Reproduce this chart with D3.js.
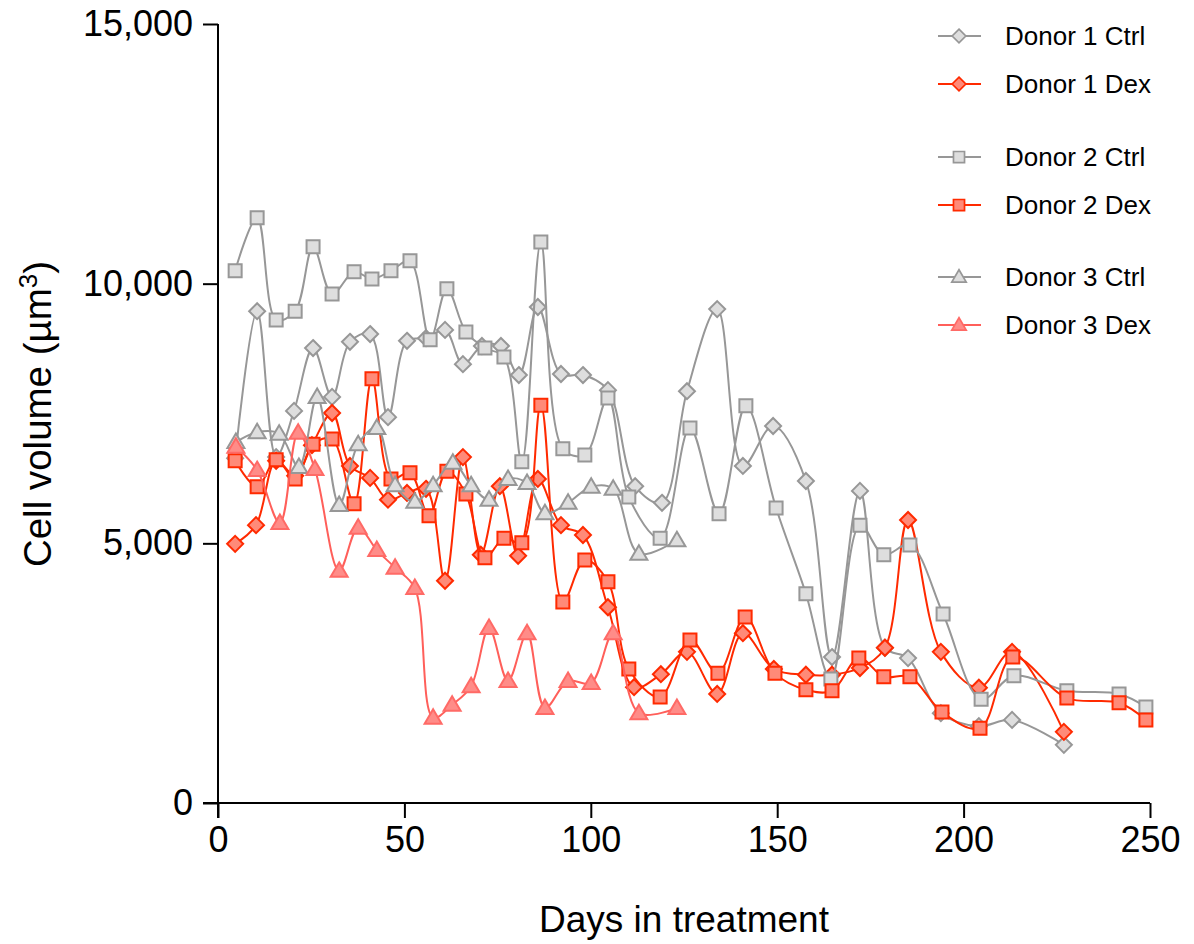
<!DOCTYPE html>
<html>
<head>
<meta charset="utf-8">
<script src="https://cdn.jsdelivr.net/npm/d3@7"></script>
<style>
  body { margin: 0; background: #fff; }
  text { font-family: "Liberation Sans", Arial, sans-serif; }
</style>
</head>
<body>
<div id="chart"></div>
<script>
// values
var d1CtrlDays = [4.6, 10.5, 15.6, 20.4, 25.5, 30.6, 35.4, 40.8, 45.6, 50.7, 55.8, 60.9, 65.7, 70.8, 75.9, 80.7, 85.8, 92, 97.9, 104.6, 111.9, 119.1, 125.8, 133.9, 140.8, 148.9, 157.7, 164.7, 172.2, 178.9, 185.1, 193.9, 204.1, 213, 226.9];
var d1Ctrl = [6640, 9470, 6660, 7550, 8760, 7820, 8880, 9030, 7430, 8900, 8950, 9110, 8450, 8800, 8800, 8240, 9550, 8260, 8240, 7950, 6100, 5780, 7930, 9510, 6490, 7260, 6200, 2810, 6010, 2990, 2790, 1730, 1480, 1600, 1120];

var d1DexDays = [4.6, 10.2, 15.6, 20.7, 25.2, 30.6, 35.4, 40.8, 45.6, 50.7, 55.8, 60.9, 65.7, 70.5, 75.6, 80.5, 85.8, 92, 97.9, 104.6, 111.6, 118.8, 125.8, 133.9, 140.8, 149.1, 157.7, 164.7, 172.2, 178.9, 185.1, 193.9, 204.1, 213, 226.9];
var d1Dex = [4990, 5350, 6590, 6300, 6890, 7510, 6490, 6260, 5840, 5970, 6050, 4280, 6660, 4780, 6100, 4760, 6240, 5350, 5160, 3770, 2230, 2480, 2910, 2100, 3270, 2580, 2470, 2470, 2600, 2990, 5450, 2910, 2220, 2910, 1370];

var d2CtrlDays = [4.6, 10.5, 15.6, 20.7, 25.5, 30.6, 36.5, 41.3, 46.4, 51.5, 56.9, 61.4, 66.5, 71.6, 76.7, 81.5, 86.6, 92.5, 98.4, 104.6, 110.2, 118.6, 126.6, 134.4, 141.6, 149.7, 157.7, 164.4, 172.2, 178.6, 185.6, 194.5, 204.7, 213.5, 227.7, 241.7, 248.9];
var d2Ctrl = [10250, 11270, 9300, 9470, 10710, 9800, 10230, 10090, 10250, 10440, 8920, 9900, 9070, 8760, 8590, 6570, 10800, 6820, 6700, 7800, 5890, 5100, 7220, 5570, 7650, 5680, 4030, 2390, 5350, 4780, 4970, 3640, 2000, 2450, 2160, 2100, 1850];

var d2DexDays = [4.6, 10.5, 15.6, 20.7, 25.5, 30.6, 36.5, 41.3, 46.4, 51.5, 56.6, 61.4, 66.5, 71.6, 76.7, 81.5, 86.6, 92.5, 98.4, 104.6, 110.2, 118.6, 126.6, 134.1, 141.4, 149.4, 157.7, 164.7, 171.9, 178.6, 185.6, 194.2, 204.4, 213.2, 227.7, 241.7, 248.9];
var d2Dex = [6590, 6090, 6610, 6240, 6910, 7010, 5760, 8170, 6240, 6360, 5530, 6390, 5950, 4720, 5100, 5010, 7660, 3870, 4680, 4260, 2580, 2040, 3140, 2500, 3580, 2500, 2180, 2160, 2790, 2430, 2430, 1750, 1440, 2810, 2020, 1930, 1600];

var d3CtrlDays = [4.8, 10.5, 16.4, 21.7, 26.6, 32.5, 37.6, 42.6, 47.5, 52.8, 57.7, 63, 67.9, 72.7, 77.8, 82.9, 87.7, 93.9, 100.1, 106, 112.9, 123.1];
var d3Ctrl = [6950, 7140, 7110, 6470, 7820, 5740, 6910, 7220, 6120, 5800, 6120, 6550, 6120, 5840, 6240, 6160, 5580, 5780, 6090, 6050, 4800, 5060];

var d3DexDays = [4.8, 10.5, 16.6, 21.5, 26, 32.5, 37.6, 42.6, 47.5, 52.8, 57.7, 62.8, 67.9, 72.7, 77.8, 82.9, 87.7, 93.9, 100.1, 106, 112.9, 123.1];
var d3Dex = [6860, 6410, 5390, 7130, 6430, 4470, 5300, 4870, 4530, 4140, 1640, 1890, 2250, 3370, 2350, 3270, 1830, 2350, 2310, 3270, 1730, 1830];

var seriesNames = ["Donor 1 Ctrl", "Donor 1 Dex", "Donor 2 Ctrl", "Donor 2 Dex", "Donor 3 Ctrl", "Donor 3 Dex"];
var xTicks = [0, 50, 100, 150, 200, 250];
var yTicks = [0, 5000, 10000, 15000];

var W = 1194, H = 944;
var margin = { top: 24, right: 44, bottom: 141, left: 218 };

var gray = { line: "#979797", fill: "#dedede", stroke: "#979797" };
var red = { line: "#ff2a00", fill: "#ff8a78", stroke: "#ff2a00" };
var pink = { line: "#ff5f5a", fill: "#ff8c88", stroke: "#ff6a66" };

var series = [
  { name: seriesNames[0], days: d1CtrlDays, vals: d1Ctrl, shape: "diamond", c: gray },
  { name: seriesNames[1], days: d1DexDays, vals: d1Dex, shape: "diamond", c: red },
  { name: seriesNames[2], days: d2CtrlDays, vals: d2Ctrl, shape: "square", c: gray },
  { name: seriesNames[3], days: d2DexDays, vals: d2Dex, shape: "square", c: red },
  { name: seriesNames[4], days: d3CtrlDays, vals: d3Ctrl, shape: "triangle", c: gray },
  { name: seriesNames[5], days: d3DexDays, vals: d3Dex, shape: "triangle", c: pink }
];

var svg = d3.select("#chart").append("svg")
    .attr("width", W)
    .attr("height", H);

var x = d3.scaleLinear().domain([0, 250]).range([margin.left, W - margin.right]);
var y = d3.scaleLinear().domain([0, 15000]).range([H - margin.bottom, margin.top]);

// marker paths
function marker(shape) {
  if (shape == "diamond") return "M0,-8L8,0L0,8L-8,0Z";
  if (shape == "square") return "M-6.5,-6.5H6.5V6.5H-6.5Z";
  return "M0,-8.5L8.5,6L-8.5,6Z";
}

var line = d3.line()
    .x(function(d) { return x(d[0]); })
    .y(function(d) { return y(d[1]); })
    .curve(d3.curveCatmullRom.alpha(0.5));

// draw line then markers for each series
series.forEach(function(s) {
  var pts = s.days.map(function(d, i) { return [d, s.vals[i]]; });
  var g = svg.append("g");
  g.append("path")
    .datum(pts)
    .attr("d", line)
    .attr("fill", "none")
    .attr("stroke", s.c.line)
    .attr("stroke-width", 2);
  g.selectAll("path.m")
    .data(pts).enter().append("path")
    .attr("class", "m")
    .attr("d", marker(s.shape))
    .attr("transform", function(d) { return "translate(" + x(d[0]) + "," + y(d[1]) + ")"; })
    .attr("fill", s.c.fill)
    .attr("stroke", s.c.stroke)
    .attr("stroke-width", 2);
});

// axes
var yAxis = d3.axisLeft(y).tickValues(yTicks).tickSize(15).tickSizeOuter(0).tickPadding(10)
    .tickFormat(d3.format(","));
var gy = svg.append("g")
    .attr("transform", "translate(" + margin.left + ",0)")
    .call(yAxis);

var xAxis = d3.axisBottom(x).tickValues(xTicks).tickSize(15).tickSizeOuter(0).tickPadding(8);
var gx = svg.append("g")
    .attr("transform", "translate(0," + y(0) + ")")
    .call(xAxis);

// axes run past the origin like in the original
gy.select(".domain").attr("d", "M0," + y(15000) + "V" + (y(0) + 15));
gx.select(".domain").attr("d", "M" + (margin.left - 15) + ",0H" + x(250));

[gx, gy].forEach(function(g) {
  g.selectAll("path, line").attr("stroke", "#000").attr("stroke-width", 2);
  g.selectAll("text").attr("font-size", 36).attr("fill", "#000")
    .attr("font-family", "Liberation Sans, Arial, sans-serif");
});

// axis titles
var yTitle = svg.append("text")
    .attr("transform", "translate(51,414) rotate(-90)")
    .attr("text-anchor", "middle")
    .attr("font-size", 38.5);
yTitle.append("tspan").text("Cell volume (µm");
yTitle.append("tspan").attr("font-size", 26).attr("dy", -14).text("3");
yTitle.append("tspan").attr("dy", 14).text(")");

svg.append("text")
    .attr("x", 684)
    .attr("y", 932)
    .attr("text-anchor", "middle")
    .attr("font-size", 37)
    .text("Days in treatment");

// legend
var legendY = [36, 84, 157, 205, 277, 325];
var legend = svg.selectAll(".legend")
  .data(series).enter()
  .append("g")
  .attr("class", "legend")
  .attr("transform", function(d, i) { return "translate(938," + legendY[i] + ")"; });

legend.append("line")
    .attr("x1", 0).attr("x2", 43)
    .attr("stroke", function(d) { return d.c.line; })
    .attr("stroke-width", 2);

legend.append("path")
    .attr("d", function(d) { return marker(d.shape); })
    .attr("transform", "translate(21,0) scale(0.85)")
    .attr("fill", function(d) { return d.c.fill; })
    .attr("stroke", function(d) { return d.c.stroke; })
    .attr("stroke-width", 2);

legend.append("text")
    .attr("x", 67)
    .attr("y", 9)
    .attr("font-size", 26)
    .text(function(d) { return d.name; });
</script>
</body>
</html>
